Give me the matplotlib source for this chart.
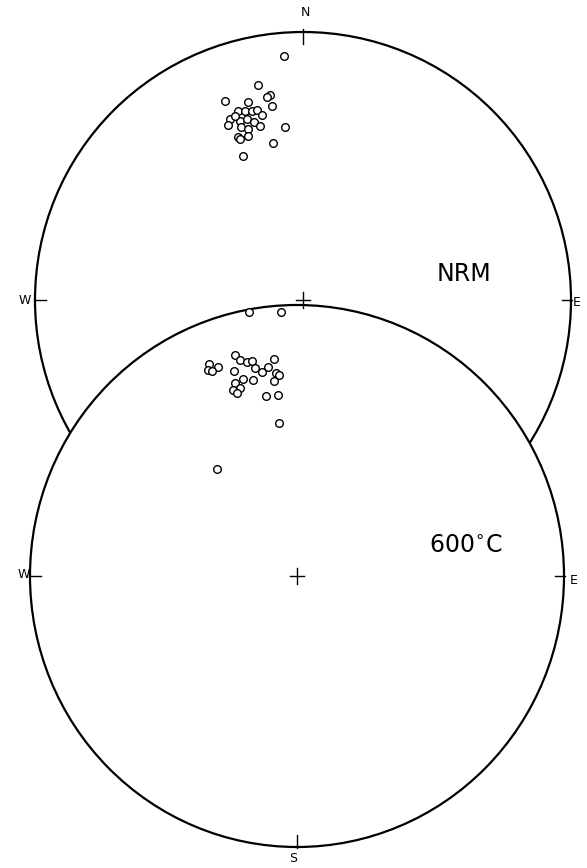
import numpy as np
import matplotlib
matplotlib.use("Agg")
import matplotlib.pyplot as plt
from matplotlib.patches import Ellipse

# NRM directions (declination, inclination in degrees); open symbols = upper hemisphere
nrm_dec = [355.5, 348.2, 350.8, 349.8, 351.0, 338.7, 344.5, 340.9, 342.9, 344.8,
           346.5, 347.4, 337.9, 336.8, 340.5, 342.9, 344.7, 340.4, 342.3, 346.1,
           354.0, 338.1, 338.6, 341.4, 349.2, 337.4, 339.6]
nrm_inc = [-9.6, -19.2, -23.5, -24.2, -27.6, -21.3, -24.2, -26.3, -27.0, -27.7,
           -28.0, -30.0, -28.1, -29.7, -29.9, -30.2, -31.6, -32.1, -33.3, -33.5,
           -35.3, -34.8, -35.6, -35.5, -40.2, -41.5, -27.6]

# directions after thermal demagnetisation at 600 C
t600_dec = [349.5, 356.4, 344.2, 345.1, 346.7, 348.1, 353.9, 337.1, 336.2, 338.9,
            337.2, 348.4, 350.1, 352.1, 342.8, 354.0, 354.9, 344.6, 347.1, 353.2,
            342.0, 343.0, 340.8, 341.7, 350.1, 354.0, 353.0, 322.7]
t600_inc = [-1.0, -2.7, -16.3, -18.5, -19.8, -20.2, -20.7, -16.1, -18.1, -18.5,
            -18.9, -22.8, -24.5, -23.3, -21.8, -25.8, -26.5, -25.4, -26.8, -28.4,
            -26.2, -28.1, -28.0, -29.6, -33.2, -33.2, -42.6, -49.1]

W, H = 587, 868

# net layout in pixels: centre x, centre y, radius x, radius y
NET_TOP = (303, 300, 268, 268)
NET_BOT = (297, 576, 267, 271)


def project(dec, inc, net):
    """Equal-area (Schmidt) projection onto the net, returns pixel coords."""
    cx, cy, rx, ry = net
    dec = np.radians(dec)
    colat = np.radians(90 - np.abs(inc))
    r = np.sqrt(2) * np.sin(colat / 2)
    return cx + rx * r * np.sin(dec), cy - ry * r * np.cos(dec)


def draw_net(ax, net, z, fill, north_tick=True):
    cx, cy, rx, ry = net
    ax.add_patch(Ellipse((cx, cy), 2 * rx, 2 * ry, facecolor="white" if fill else "none",
                         edgecolor="black", lw=1.6, zorder=z))
    # compass ticks pointing inwards
    if north_tick:
        ax.plot([cx, cx], [cy - ry - 3, cy - ry + 12], color="black", lw=1.0, zorder=z + 0.1)
    ax.plot([cx, cx], [cy + ry + 1, cy + ry - 12], color="black", lw=1.0, zorder=z + 0.1)
    ax.plot([cx - rx - 1, cx - rx + 11], [cy, cy], color="black", lw=1.0, zorder=z + 0.1)
    ax.plot([cx + rx + 1, cx + rx - 9], [cy, cy], color="black", lw=1.0, zorder=z + 0.1)
    # centre cross
    ax.plot([cx - 7, cx + 7], [cy, cy], color="black", lw=1.0, zorder=10)
    ax.plot([cx, cx], [cy - 8, cy + 8], color="black", lw=1.0, zorder=10)


fig = plt.figure(figsize=(W / 100, H / 100), dpi=100)
ax = fig.add_axes([0, 0, 1, 1])
ax.set_xlim(0, W)
ax.set_ylim(H, 0)
ax.set_aspect("equal")
ax.axis("off")

draw_net(ax, NET_TOP, 1, False)
x, y = project(nrm_dec, nrm_inc, NET_TOP)
ax.plot(x, y, "o", ms=5.5, mfc="white", mec="black", mew=1.0, zorder=2)

draw_net(ax, NET_BOT, 3, True, north_tick=False)
x, y = project(t600_dec, t600_inc, NET_BOT)
ax.plot(x, y, "o", ms=5.5, mfc="white", mec="black", mew=1.0, zorder=4)

lab = dict(fontsize=9, ha="center", va="center", color="black", zorder=11)
ax.text(305, 13, "N", **lab)
ax.text(25, 300, "W", **lab)
ax.text(577, 302, "E", **lab)
ax.text(24, 575, "W", **lab)
ax.text(574, 580, "E", **lab)
ax.text(293, 859, "S", **lab)

ax.text(464, 274, "NRM", fontsize=17, ha="center", va="center", zorder=11)
ax.text(466, 546, "600$^{\\circ}$C", fontsize=17, ha="center", va="center", zorder=11)

fig.savefig("out.png", dpi=100, facecolor="white")
